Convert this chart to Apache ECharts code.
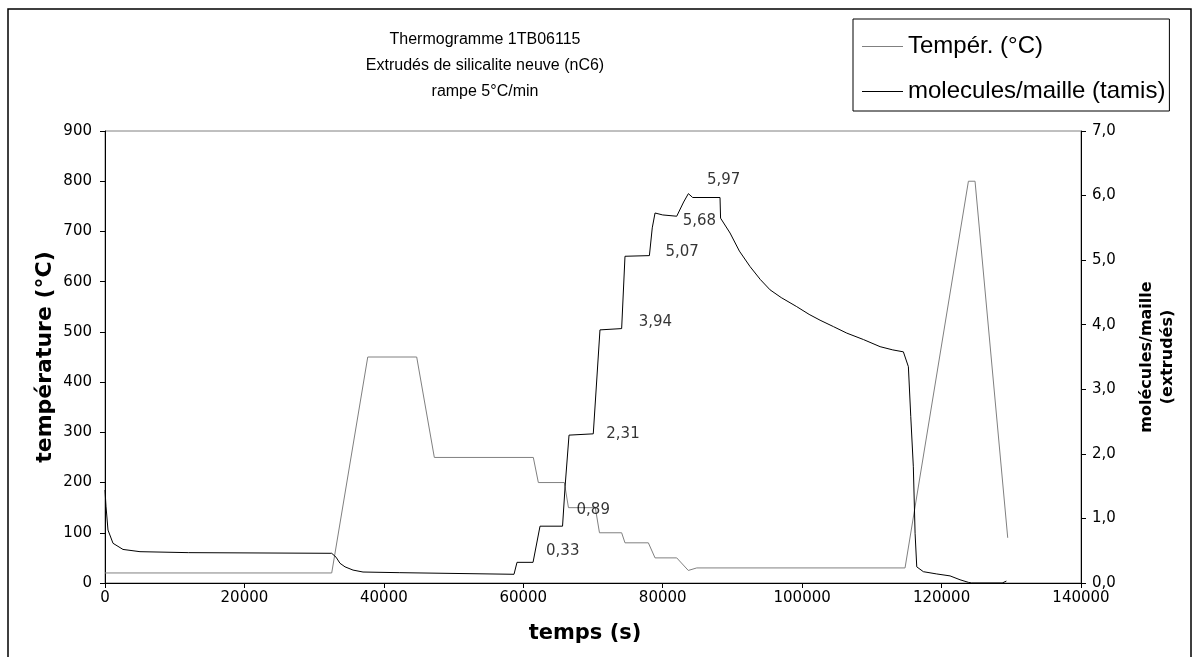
<!DOCTYPE html>
<html>
<head>
<meta charset="utf-8">
<script src="https://cdn.jsdelivr.net/npm/echarts@6/dist/echarts.min.js"></script>
<style>html,body{margin:0;padding:0;background:#fff}#c{width:1200px;height:657px}</style>
</head>
<body>
<div id="c"></div>
<script>
// ---- data ----
const titleLines = ['Thermogramme 1TB06115', 'Extrudés de silicalite neuve (nC6)', 'rampe 5°C/min'];
const seriesNames = ['Tempér. (°C)', 'molecules/maille (tamis)'];
const xTicks = [0, 20000, 40000, 60000, 80000, 100000, 120000, 140000];

const tempTime  = [0, 32520, 37690, 44710, 47240, 61440, 62160, 65890, 66480, 70330, 70930, 74110, 74590, 77940, 78900, 82010, 83670, 84880, 114760, 123850, 124800, 129490];
const tempValue = [20, 20, 450, 450, 250, 250, 200, 200, 150, 150, 100, 100, 80, 80, 50, 50, 25, 30, 30, 800, 800, 90];

const molTime  = [0, 143, 430, 1150, 2580, 5020, 12000, 32520, 33140, 33710, 34430, 35580, 37010, 42200, 42400, 58670, 59100, 61400, 62400, 65630, 66000, 66560, 70040, 71000, 74110, 74590, 78090, 78500, 78900, 80000, 82010, 83000, 83680, 84300, 88220, 88300, 89660, 91000, 92530, 94000, 95400, 97000, 99220, 101000, 102570, 104500, 106400, 108800, 111180, 113000, 114520, 115240, 115580, 115950, 116200, 116440, 117390, 119310, 121220, 122650, 123850, 124300, 128700, 128800, 129300];
const molValue = [1.44, 1.19, 0.82, 0.615, 0.52, 0.485, 0.47, 0.46, 0.40, 0.305, 0.25, 0.20, 0.17, 0.16, 0.135, 0.135, 0.32, 0.32, 0.88, 0.88, 1.5, 2.29, 2.31, 3.92, 3.94, 5.06, 5.07, 5.5, 5.73, 5.70, 5.68, 5.9, 6.03, 5.97, 5.97, 5.65, 5.42, 5.14, 4.90, 4.70, 4.54, 4.42, 4.28, 4.16, 4.07, 3.97, 3.87, 3.77, 3.66, 3.61, 3.58, 3.35, 2.58, 1.80, 0.77, 0.25, 0.175, 0.14, 0.11, 0.05, 0.01, 0, 0, 0.03, 0.03];

// plateau annotations: time of plateau end, plateau value, label text
const noteTime  = [61400, 65630, 70040, 74110, 78090, 82010, 88220];
const noteValue = [0.32, 0.88, 2.31, 3.94, 5.07, 5.68, 5.97];
const noteText  = ['0,33', '0,89', '2,31', '3,94', '5,07', '5,68', '5,97'];

// ---- styling / layout ----
const noteOffset = [[13, -11], [14, -16], [13, 0], [17, -6], [16, -4], [6, 5], [-13, -17]];
const FONT = "'Liberation Sans', Arial, sans-serif";
const WIDE = "'DejaVu Sans', sans-serif";

const tempData = tempTime.map((t, i) => [t, tempValue[i]]);
const molData = molTime.map((t, i) => [t, molValue[i]]);
const noteData = noteTime.map((t, i) => ({
  value: [t, noteValue[i]],
  label: { offset: noteOffset[i], formatter: noteText[i] }
}));

const chart = echarts.init(document.getElementById('c'), null, { renderer: 'canvas' });
chart.setOption({
  animation: false,
  backgroundColor: '#fff',
  textStyle: { fontFamily: FONT },
  title: {
    text: titleLines.join('\n'),
    left: 480, top: 22, textAlign: 'center',
    textStyle: { fontFamily: FONT, fontSize: 16, fontWeight: 'normal', color: '#000', lineHeight: 26 }
  },
  legend: {
    orient: 'vertical', left: 853, top: 19,
    data: seriesNames,
    icon: 'rect',
    itemWidth: 41, itemHeight: 1, itemGap: 21,
    padding: [15.5, 4, 7.5, 9],
    borderColor: '#000', borderWidth: 1,
    textStyle: { fontFamily: FONT, fontSize: 24, color: '#000', lineHeight: 24 }
  },
  grid: { left: 105, right: 119, top: 131, bottom: 74, show: true, borderColor: '#808080', borderWidth: 1, backgroundColor: 'transparent' },
  xAxis: {
    type: 'value', min: xTicks[0], max: xTicks[xTicks.length - 1], interval: xTicks[1] - xTicks[0],
    name: 'temps (s)', nameLocation: 'middle', nameGap: 40, nameMoveOverlap: false,
    nameTextStyle: { fontFamily: WIDE, fontSize: 21, fontWeight: 'bold', color: '#000', padding: [0, 16, 0, 0] },
    axisLine: { lineStyle: { color: '#000', width: 1 } },
    axisTick: { length: 5, lineStyle: { color: '#000' } },
    axisLabel: { fontFamily: WIDE, fontSize: 15, color: '#000', margin: 8, formatter: v => String(v) },
    splitLine: { show: false }
  },
  yAxis: [{
    type: 'value', min: 0, max: 900, interval: 100, position: 'left',
    name: 'température (°C)', nameLocation: 'middle', nameGap: 49, nameRotate: 90, nameMoveOverlap: false,
    nameTextStyle: { fontFamily: WIDE, fontSize: 22, fontWeight: 'bold', color: '#000' },
    axisLine: { show: true, lineStyle: { color: '#000', width: 1 } },
    axisTick: { show: true, length: 5, lineStyle: { color: '#000' } },
    axisLabel: { fontFamily: WIDE, fontSize: 15, color: '#000', margin: 13 },
    splitLine: { show: false }
  }, {
    type: 'value', min: 0, max: 7, interval: 1, position: 'right',
    name: 'molécules/maille\n(extrudés)', nameLocation: 'middle', nameGap: 55, nameRotate: 90, nameMoveOverlap: false,
    nameTextStyle: { fontFamily: WIDE, fontSize: 16, fontWeight: 'bold', color: '#000', lineHeight: 21, align: 'center' },
    axisLine: { show: true, lineStyle: { color: '#000', width: 1 } },
    axisTick: { show: true, length: 5, lineStyle: { color: '#000' } },
    axisLabel: { fontFamily: WIDE, fontSize: 15, color: '#000', margin: 11, formatter: v => v.toFixed(1).replace('.', ',') },
    splitLine: { show: false }
  }],
  series: [{
    name: seriesNames[0], type: 'line', yAxisIndex: 0, data: tempData,
    symbol: 'none', lineStyle: { color: '#808080', width: 1 }, itemStyle: { color: '#808080' }, z: 2
  }, {
    name: seriesNames[1], type: 'line', yAxisIndex: 1, data: molData,
    symbol: 'none', lineStyle: { color: '#000', width: 1 }, itemStyle: { color: '#000' }, z: 3
  }, {
    name: 'notes', type: 'scatter', yAxisIndex: 1, data: noteData,
    symbolSize: 0, silent: true, z: 4,
    label: { show: true, position: 'right', distance: 0, fontFamily: WIDE, fontSize: 15, color: '#000' }
  }],
  graphic: [{
    type: 'rect', silent: true, z: -1,
    shape: { x: 8, y: 9, width: 1183, height: 700 },
    style: { fill: 'none', stroke: '#000', lineWidth: 1.5 }
  }]
});
</script>
</body>
</html>
